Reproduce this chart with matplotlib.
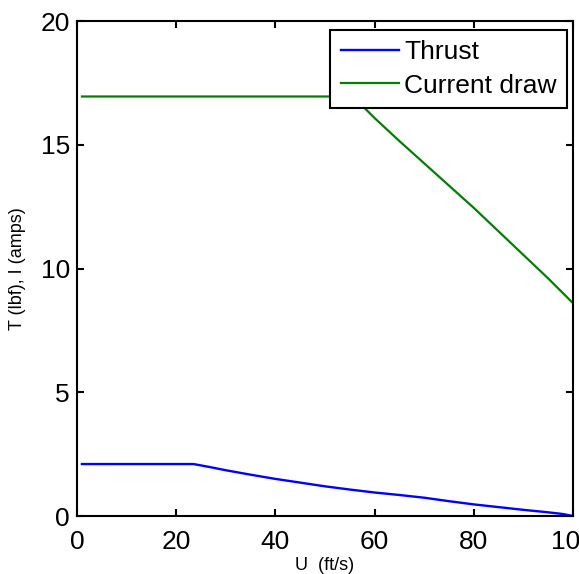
import numpy as np
import matplotlib
matplotlib.use("Agg")
import matplotlib.pyplot as plt

plt.rcParams['font.family'] = ['Liberation Sans', 'DejaVu Sans']

# airspeed (ft/s)
u_thrust = [1, 23.5, 27, 30, 35, 40, 45, 50, 55, 60, 65, 70, 75, 80, 85, 90, 95, 98, 100]
thrust = [2.1, 2.1, 1.97, 1.85, 1.67, 1.5, 1.35, 1.2, 1.07, 0.95, 0.85, 0.74, 0.6, 0.47, 0.36, 0.25, 0.15, 0.08, 0.0]

u_current = [1, 54.5, 56, 57, 58, 60, 65, 70, 75, 80, 85, 90, 95, 100]
current = [16.95, 16.95, 16.88, 16.7, 16.48, 16.08, 15.15, 14.25, 13.35, 12.45, 11.5, 10.55, 9.6, 8.6]

fig = plt.figure(figsize=(5.79, 5.74), dpi=100)
ax = fig.add_axes([0.133, 0.101, 0.8566, 0.8624])

ax.plot(u_thrust, thrust, color=(0, 0, 1), lw=1.7, label='Thrust')
ax.plot(u_current, current, color=(0, 0.5, 0), lw=1.6, label='Current draw')

ax.set_xlim(0, 100)
ax.set_ylim(0, 20)
ax.set_xticks([0, 20, 40, 60, 80, 100])
ax.set_yticks([0, 5, 10, 15, 20])

for s in ax.spines.values():
    s.set_linewidth(1.5)
ax.tick_params(direction='in', length=5, width=1.5, top=True, right=True, labelsize=19)
ax.tick_params(axis='x', pad=10)
ax.tick_params(axis='y', pad=5)

ax.set_xlabel('U  (ft/s)', fontsize=13)
ax.set_ylabel('T (lbf), I (amps)', fontsize=13)
ax.xaxis.set_label_coords(0.5, -0.083)
ax.yaxis.set_label_coords(-0.103, 0.5)

leg = ax.legend(loc='upper right', bbox_to_anchor=(0.988, 0.982), borderaxespad=0,
                fontsize=19, handlelength=2.2, handletextpad=0.2, labelspacing=0.35,
                fancybox=False, framealpha=1, edgecolor='black', borderpad=0.4)
leg.get_frame().set_linewidth(1.5)

fig.savefig('out.png', dpi=100)
